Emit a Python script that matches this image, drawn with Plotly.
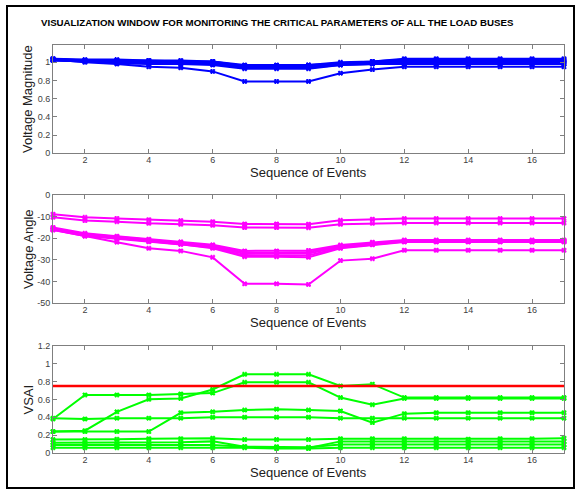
import plotly.graph_objects as go

events = list(range(1, 18))
x_ticks = [2, 4, 6, 8, 10, 12, 14, 16]

# Voltage magnitude per load bus
vmag = [
    [1.04, 1.03, 1.03, 1.02, 1.02, 1.01, 0.97, 0.97, 0.97, 1.00, 1.01, 1.03, 1.03, 1.03, 1.03, 1.03, 1.03],
    [1.03, 1.02, 1.02, 1.01, 1.01, 1.00, 0.96, 0.96, 0.96, 0.99, 1.00, 1.02, 1.02, 1.02, 1.02, 1.02, 1.02],
    [1.03, 1.02, 1.01, 1.01, 1.00, 1.00, 0.95, 0.95, 0.95, 0.98, 1.00, 1.01, 1.01, 1.01, 1.01, 1.01, 1.01],
    [1.02, 1.01, 1.00, 1.00, 0.99, 0.99, 0.94, 0.94, 0.95, 0.98, 0.99, 1.00, 1.00, 1.00, 1.00, 1.00, 1.00],
    [1.02, 1.01, 1.00, 0.99, 0.99, 0.98, 0.94, 0.94, 0.94, 0.97, 0.98, 0.99, 0.99, 0.99, 0.99, 0.99, 0.99],
    [1.03, 1.01, 0.99, 0.98, 0.98, 0.97, 0.93, 0.93, 0.93, 0.97, 0.98, 0.98, 0.98, 0.98, 0.98, 0.98, 0.98],
    [1.04, 1.02, 1.02, 1.02, 1.01, 1.01, 0.96, 0.96, 0.97, 0.99, 1.01, 1.04, 1.04, 1.04, 1.04, 1.04, 1.04],
    [1.03, 1.00, 0.98, 0.95, 0.94, 0.90, 0.79, 0.79, 0.79, 0.88, 0.92, 0.95, 0.95, 0.95, 0.95, 0.95, 0.95],
]

# Voltage angle per load bus
vang = [
    [-8.9, -10.3, -10.8, -11.4, -11.8, -12.3, -13.4, -13.4, -13.5, -11.7, -11.2, -10.9, -10.9, -10.9, -10.9, -10.9, -10.9],
    [-10.3, -11.8, -12.3, -13.1, -13.5, -14.0, -15.0, -15.0, -15.1, -13.5, -13.1, -12.9, -12.9, -12.9, -12.9, -12.9, -12.9],
    [-15.0, -17.7, -19.0, -20.4, -21.6, -23.0, -25.8, -25.8, -25.6, -23.1, -21.8, -20.8, -20.8, -20.8, -20.8, -20.8, -20.8],
    [-15.3, -18.0, -19.3, -20.8, -22.0, -23.4, -26.5, -26.5, -26.3, -23.5, -22.2, -21.1, -21.1, -21.1, -21.1, -21.1, -21.1],
    [-15.6, -18.3, -19.6, -21.1, -22.3, -23.8, -27.2, -27.2, -27.0, -23.9, -22.5, -21.3, -21.3, -21.3, -21.3, -21.3, -21.3],
    [-15.9, -18.6, -19.9, -21.4, -22.6, -24.2, -28.0, -28.0, -27.9, -24.3, -22.8, -21.5, -21.5, -21.5, -21.5, -21.5, -21.5],
    [-16.2, -18.9, -20.2, -21.6, -22.8, -24.6, -28.5, -28.5, -28.8, -24.6, -23.0, -21.7, -21.7, -21.7, -21.7, -21.7, -21.7],
    [-16.0, -19.0, -21.8, -24.6, -25.8, -28.8, -41.0, -41.0, -41.3, -30.3, -29.4, -25.5, -25.5, -25.5, -25.5, -25.5, -25.5],
]

# VSAI per load bus
vsai = [
    [0.38, 0.65, 0.65, 0.65, 0.66, 0.67, 0.79, 0.79, 0.79, 0.62, 0.54, 0.61, 0.61, 0.61, 0.61, 0.61, 0.61],
    [0.24, 0.25, 0.46, 0.60, 0.61, 0.71, 0.88, 0.88, 0.88, 0.75, 0.77, 0.62, 0.62, 0.62, 0.62, 0.62, 0.62],
    [0.39, 0.38, 0.39, 0.39, 0.39, 0.40, 0.40, 0.40, 0.40, 0.39, 0.39, 0.39, 0.39, 0.39, 0.39, 0.39, 0.39],
    [0.24, 0.24, 0.24, 0.24, 0.45, 0.46, 0.48, 0.49, 0.48, 0.47, 0.34, 0.44, 0.45, 0.45, 0.45, 0.45, 0.45],
    [0.15, 0.15, 0.155, 0.16, 0.16, 0.165, 0.15, 0.15, 0.15, 0.16, 0.16, 0.16, 0.16, 0.155, 0.16, 0.16, 0.165],
    [0.115, 0.115, 0.12, 0.12, 0.12, 0.13, 0.07, 0.06, 0.055, 0.13, 0.13, 0.13, 0.13, 0.13, 0.13, 0.13, 0.13],
    [0.09, 0.09, 0.09, 0.09, 0.09, 0.09, 0.07, 0.07, 0.065, 0.095, 0.095, 0.095, 0.095, 0.095, 0.095, 0.095, 0.095],
    [0.06, 0.06, 0.06, 0.06, 0.06, 0.06, 0.06, 0.05, 0.05, 0.06, 0.06, 0.06, 0.06, 0.06, 0.06, 0.06, 0.06],
]
vsai_limit = 0.75

fig = go.Figure()

def add_series(data, color, xa, ya):
    for s in data:
        fig.add_trace(go.Scatter(
            x=events, y=s, mode="lines+markers", xaxis=xa, yaxis=ya,
            line=dict(color=color, width=2),
            marker=dict(symbol="hash-open", size=5, color=color,
                        line=dict(color=color, width=1.3)),
            cliponaxis=False, showlegend=False, hoverinfo="skip"))

add_series(vmag, "#0000FF", "x", "y")
add_series(vang, "#FF00FF", "x2", "y2")
add_series(vsai, "#00FF00", "x3", "y3")
fig.add_trace(go.Scatter(
    x=[events[0], events[-1]], y=[vsai_limit, vsai_limit], mode="lines",
    xaxis="x3", yaxis="y3", line=dict(color="#FF0000", width=2.5),
    showlegend=False, hoverinfo="skip"))

axis_common = dict(showline=True, linecolor="#7f7f7f", linewidth=1, mirror="ticks",
                   ticks="inside", ticklen=4, tickcolor="#7f7f7f", showgrid=False,
                   zeroline=False, tickfont=dict(family="Liberation Sans, Arial", size=9, color="#404040"))

xa = dict(axis_common, range=[1, 17], tickvals=x_ticks, ticktext=[str(t) for t in x_ticks],
          ticklabelstandoff=-2)

dom_top = [0.7346, 1.0]
dom_mid = [0.3669, 0.6324]
dom_bot = [0.0, 0.263]

fig.update_layout(
    width=577, height=489,
    margin=dict(l=53, r=13, t=45, b=36),
    paper_bgcolor="white", plot_bgcolor="white",
    xaxis=dict(xa, anchor="y"),
    xaxis2=dict(xa, anchor="y2"),
    xaxis3=dict(xa, anchor="y3"),
    yaxis=dict(axis_common, domain=dom_top, range=[0, 1.19],
               tickvals=[0, 0.2, 0.4, 0.6, 0.8, 1.0], ticktext=["0", "0.2", "0.4", "0.6", "0.8", "1"], anchor="x"),
    yaxis2=dict(axis_common, domain=dom_mid, range=[-50, 0],
                tickvals=[-50, -40, -30, -20, -10, 0], ticktext=["-50", "-40", "-30", "-20", "-10", "0"], anchor="x2"),
    yaxis3=dict(axis_common, domain=dom_bot, range=[0, 1.2],
                tickvals=[0, 0.2, 0.4, 0.6, 0.8, 1.0, 1.2], ticktext=["0", "0.2", "0.4", "0.6", "0.8", "1", "1.2"], anchor="x3"),
)

H = 408.0
def py(pix):
    return (453.0 - pix) / H

def px(pix):
    return (pix - 53.0) / 511.0

font_t = dict(family="Liberation Sans, Arial", size=13, color="#202020")
ann = [
    dict(text="<b>VISUALIZATION WINDOW FOR MONITORING THE CRITICAL PARAMETERS OF ALL THE LOAD BUSES</b>",
         x=px(277), y=py(23), xref="paper", yref="paper", showarrow=False,
         xanchor="center", yanchor="middle", font=dict(family="Liberation Sans, Arial", size=9.7, color="black")),
]
for ycen in (172.5, 322, 472):
    ann.append(dict(text="Sequence of Events", x=px(308), y=py(ycen), xref="paper", yref="paper",
                    showarrow=False, xanchor="center", yanchor="middle", font=font_t))
for label, ycen in (("Voltage Magnitude", 99), ("Voltage Angle", 249), ("VSAI", 399.5)):
    ann.append(dict(text=label, x=px(28), y=py(ycen), xref="paper", yref="paper", textangle=-90,
                    showarrow=False, xanchor="center", yanchor="middle", font=font_t))
fig.update_layout(annotations=ann)

fig.add_shape(type="rect", xref="paper", yref="paper",
              x0=px(7), x1=px(574), y0=py(488), y1=py(6),
              line=dict(color="black", width=2), fillcolor="rgba(0,0,0,0)", layer="below")

fig.write_html("out.html", config={"displayModeBar": False},
               post_script="document.body.style.margin='0';document.body.style.overflow='hidden';")
